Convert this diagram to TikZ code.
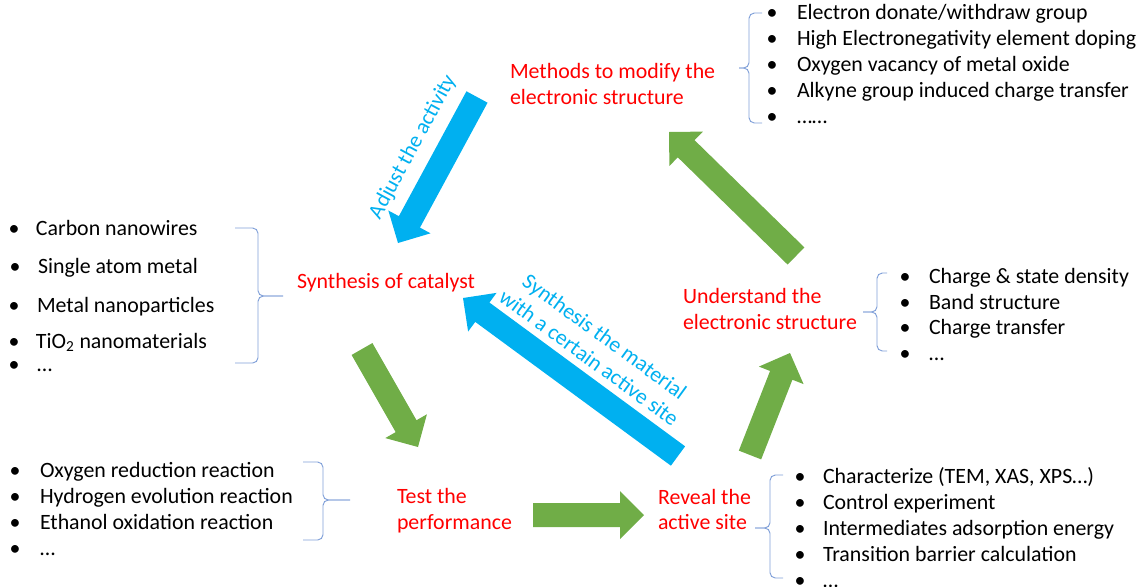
\documentclass[tikz,border=0pt]{standalone}
\usepackage{fontspec}
\setmainfont{Carlito}
\usetikzlibrary{calc}
\definecolor{stepred}{HTML}{FF0000}
\definecolor{noteblue}{HTML}{00B0F0}
\definecolor{flowgreen}{HTML}{70AD47}
\definecolor{bracecol}{HTML}{7F9FD8}

% block arrow from tail coordinate #1 to tip coordinate #2, filled with #3
\newcommand\blockarrow[3]{%
  \coordinate (ba-neck) at ($(#2)!18pt!(#1)$);
  \fill[#3] ($(#1)!9pt!90:(#2)$) -- ($(ba-neck)!9pt!90:(#2)$)
    -- ($(ba-neck)!18pt!90:(#2)$) -- (#2)
    -- ($(ba-neck)!18pt!-90:(#2)$) -- ($(ba-neck)!9pt!-90:(#2)$)
    -- ($(#1)!9pt!-90:(#2)$) -- cycle;
}
% one bulleted line: name, bullet x, text x, baseline y, text
\newcommand\listline[5]{%
  \node[bul] (#1-dot) at (#2,#4) {•};
  \node[txt] (#1) at (#3,#4) {#5};
}

\begin{document}
\begin{tikzpicture}[x=0.75pt,y=-0.75pt,
  every node/.style={inner sep=0pt, outer sep=0pt, font=\fontsize{16.4}{19.7}\selectfont},
  txt/.style={anchor=base west, text=black},
  bul/.style={anchor=base, text=black},
  lbl/.style={anchor=base west, text=stepred},
  note/.style={text=noteblue, align=center},
  brace/.style={draw=bracecol, line width=0.7pt, rounded corners=4pt}]
\useasboundingbox (0,0) rectangle (1139,586);

% ---- step labels
\node[lbl] (methods)   at (510,78)  {Methods to modify the};
\node[lbl] (methods-2) at (510,104) {electronic structure};
\node[lbl] (synth)     at (297,288) {Synthesis of catalyst};
\node[lbl] (underst)   at (683,303) {Understand the};
\node[lbl] (underst-2) at (683,329) {electronic structure};
\node[lbl] (test)      at (397,503) {Test the};
\node[lbl] (test-2)    at (397,529) {performance};
\node[lbl] (reveal)    at (658,504) {Reveal the};
\node[lbl] (reveal-2)  at (658,529) {active site};

% ---- detail lists
\listline{m1}{772}{797}{19}{Electron donate/withdraw group}
\listline{m2}{772}{797}{45}{High Electronegativity element doping}
\listline{m3}{772}{797}{71}{Oxygen vacancy of metal oxide}
\listline{m4}{772}{797}{97}{Alkyne group induced charge transfer}
\listline{m5}{772}{797}{123}{……}

\listline{s1}{14}{36}{235}{Carbon nanowires}
\listline{s2}{15}{38}{273}{Single atom metal}
\listline{s3}{14}{37}{312}{Metal nanoparticles}
\listline{s4}{14}{36}{348}{TiO\textsubscript{2} nanomaterials}
\listline{s5}{14}{37}{371}{…}

\listline{t1}{15}{40}{477}{Oxygen reduction reaction}
\listline{t2}{15}{40}{503}{Hydrogen evolution reaction}
\listline{t3}{15}{40}{529}{Ethanol oxidation reaction}
\listline{t4}{15}{40}{555}{…}

\listline{r1}{800}{823}{483}{Characterize (TEM, XAS, XPS…)}
\listline{r2}{800}{823}{509}{Control experiment}
\listline{r3}{800}{823}{535}{Intermediates adsorption energy}
\listline{r4}{800}{823}{561}{Transition barrier calculation}
\listline{r5}{800}{823}{587}{…}

\listline{u1}{905}{929}{283}{Charge \& state density}
\listline{u2}{905}{929}{309}{Band structure}
\listline{u3}{905}{929}{334}{Charge transfer}
\listline{u4}{905}{929}{360}{…}

% ---- braces
\draw[brace] (762,13) -- (749,13) -- (749,68) -- (739,68);
\draw[brace] (739,68) -- (749,68) -- (749,123) -- (762,123);
\draw[brace] (235,228) -- (258,228) -- (258,296) -- (283,296);
\draw[brace] (283,296) -- (258,296) -- (258,363) -- (235,363);
\draw[brace] (303,462) -- (323,462) -- (323,500) -- (350,500);
\draw[brace] (350,500) -- (323,500) -- (323,540) -- (303,540);
\draw[brace] (783,475) -- (770,475) -- (770,528) -- (755,528);
\draw[brace] (755,528) -- (770,528) -- (770,578) -- (783,578);
\draw[brace] (887,273) -- (877,273) -- (877,312) -- (863,312);
\draw[brace] (863,312) -- (877,312) -- (877,351) -- (887,351);

% ---- arrow end points
\coordinate (g1-from) at (362,349); \coordinate (g1-to) at (418,447);
\coordinate (g2-from) at (533,515); \coordinate (g2-to) at (644,515);
\coordinate (g3-from) at (750,455); \coordinate (g3-to) at (790,353);
\coordinate (g4-from) at (796,256); \coordinate (g4-to) at (669,132);
\coordinate (b1-from) at (477,97);  \coordinate (b1-to) at (398,243);
\coordinate (b2-from) at (678,456); \coordinate (b2-to) at (463,298);

\blockarrow{g1-from}{g1-to}{flowgreen}
\blockarrow{g2-from}{g2-to}{flowgreen}
\blockarrow{g3-from}{g3-to}{flowgreen}
\blockarrow{g4-from}{g4-to}{flowgreen}
\blockarrow{b1-from}{b1-to}{noteblue}
\blockarrow{b2-from}{b2-to}{noteblue}

% ---- arrow captions
\node[note, rotate=61.5] (adjust) at (413,147) {Adjust the activity};
\node[note, rotate=-36] (synmat) at (597,347) {Synthesis the material\\with a certain active site};
\end{tikzpicture}
\end{document}
